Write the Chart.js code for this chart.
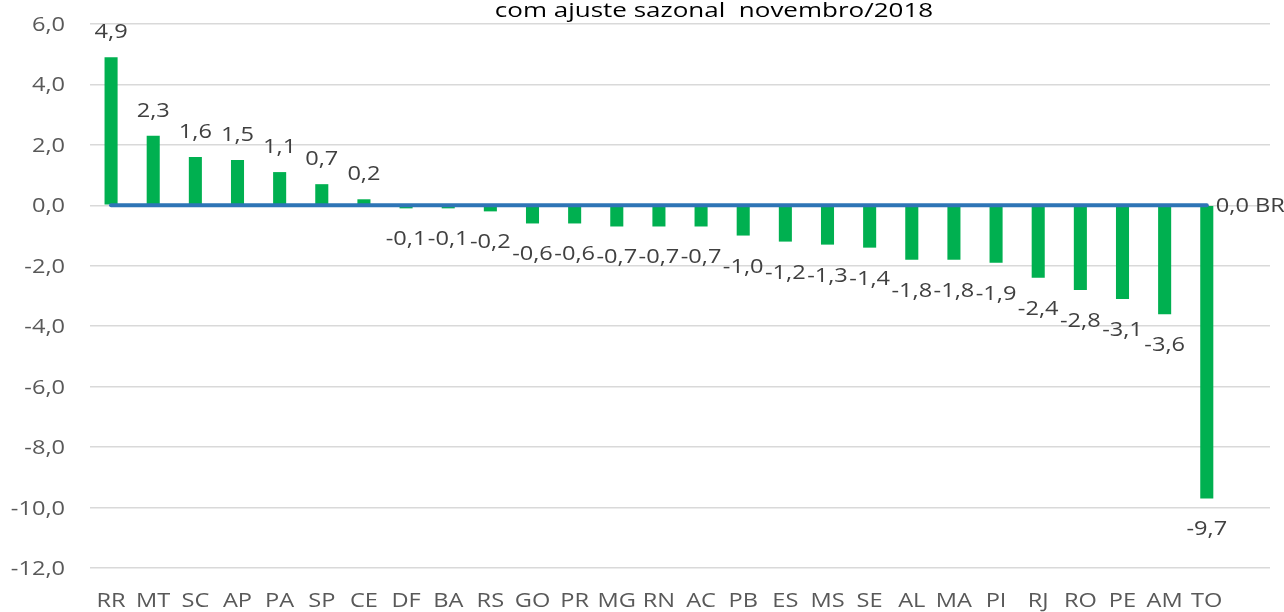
<!DOCTYPE html>
<html><head><meta charset="utf-8">
<script src="https://cdn.jsdelivr.net/npm/chart.js@4.4.1/dist/chart.umd.min.js"></script>
<style>html,body{margin:0;padding:0;background:#fff}</style>
</head><body>
<canvas id="c" width="1284" height="612"></canvas>
<script>
const titleText = 'com ajuste sazonal  novembro/2018';
const categories = ['RR','MT','SC','AP','PA','SP','CE','DF','BA','RS','GO','PR','MG','RN','AC','PB','ES','MS','SE','AL','MA','PI','RJ','RO','PE','AM','TO',''];
const ufValues = [4.9,2.3,1.6,1.5,1.1,0.7,0.2,-0.1,-0.1,-0.2,-0.6,-0.6,-0.7,-0.7,-0.7,-1.0,-1.2,-1.3,-1.4,-1.8,-1.8,-1.9,-2.4,-2.8,-3.1,-3.6,-9.7,null];
const brValues = [0,0,0,0,0,0,0,0,0,0,0,0,0,0,0,0,0,0,0,0,0,0,0,0,0,0,0,null];
const brLabel = 'BR';
const yMin = -12, yMax = 6, yStep = 2;

const FONT = "'Open Sans', 'DejaVu Sans', sans-serif";
const fmt = v => v.toFixed(1).replace('.', ',');
const SX = 1.18;      // horizontal stretch of the reference text
const SX_TITLE = 1.3;

function drawText(ctx, text, x, y, align, sx) {
  ctx.save();
  ctx.translate(x, y);
  ctx.scale(sx, 1);
  ctx.textAlign = align;
  ctx.textBaseline = 'alphabetic';
  ctx.fillText(text, 0, 0);
  ctx.restore();
}

const labelPlugin = {
  id: 'labels',
  afterDraw(chart) {
    const ctx = chart.ctx;
    const xs = chart.scales.x, ys = chart.scales.y;
    ctx.save();
    ctx.font = "20px " + FONT;
    // y tick labels
    ctx.fillStyle = '#595959';
    for (let v = yMin; v <= yMax + 1e-9; v += yStep) {
      drawText(ctx, fmt(v), 65, ys.getPixelForValue(v) + 7, 'right', SX);
    }
    // x tick labels
    categories.forEach((c, i) => {
      if (!c) return;
      drawText(ctx, c, xs.getPixelForValue(i), 607, 'center', SX);
    });
    // data labels
    ctx.fillStyle = '#404040';
    const barMeta = chart.getDatasetMeta(1);
    barMeta.data.forEach((el, i) => {
      const v = ufValues[i];
      if (v === null || v === undefined) return;
      const cy = v >= 0 ? el.y - 26 : el.y + 30;
      drawText(ctx, fmt(v), el.x, cy + 7, 'center', SX);
    });
    const lineMeta = chart.getDatasetMeta(0);
    let last = null, lastIdx = -1;
    lineMeta.data.forEach((p, i) => { if (brValues[i] !== null) { last = p; lastIdx = i; } });
    if (last) {
      drawText(ctx, fmt(brValues[lastIdx]) + ' ' + brLabel, last.x + 9, last.y + 7, 'left', SX);
    }
    // title
    ctx.fillStyle = '#000000';
    drawText(ctx, titleText, 714, 17, 'center', SX_TITLE);
    ctx.restore();
  }
};

new Chart(document.getElementById('c'), {
  data: {
    labels: categories,
    datasets: [
      { type: 'line', label: brLabel, data: brValues, borderColor: '#2E75B6', borderWidth: 4,
        borderCapStyle: 'round', pointRadius: 0, fill: false, order: 0 },
      { type: 'bar', label: 'UF', data: ufValues, backgroundColor: '#00B050',
        barPercentage: 0.31, categoryPercentage: 1.0, order: 1 }
    ]
  },
  options: {
    responsive: false,
    animation: false,
    layout: { padding: { top: 24, right: 14, left: 0, bottom: 0 } },
    plugins: { legend: { display: false }, tooltip: { enabled: false }, title: { display: false } },
    scales: {
      x: {
        grid: { display: false },
        border: { display: false },
        ticks: { display: false, autoSkip: false, maxRotation: 0, minRotation: 0 },
        afterFit(s) { s.height = 44; }
      },
      y: {
        min: yMin, max: yMax,
        grid: { color: '#D9D9D9', lineWidth: 1.5, drawTicks: false },
        border: { display: false },
        ticks: { display: false, stepSize: yStep },
        afterFit(s) { s.width = 90; }
      }
    }
  },
  plugins: [labelPlugin]
});
</script>
</body></html>
